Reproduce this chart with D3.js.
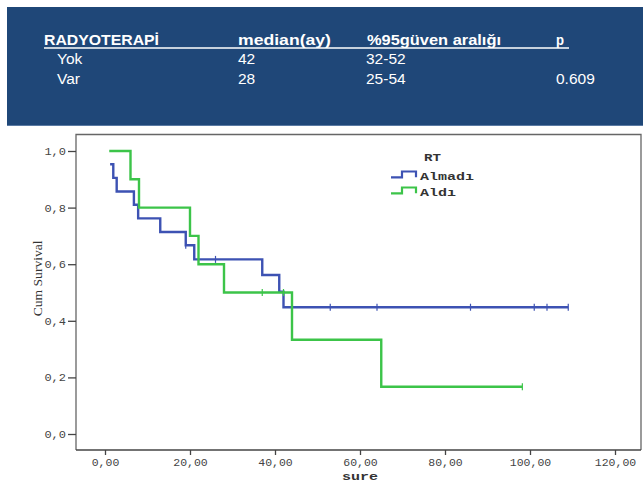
<!DOCTYPE html>
<html>
<head>
<meta charset="utf-8">
<script src="https://cdn.jsdelivr.net/npm/d3@7"></script>
<style>
  html, body { margin: 0; padding: 0; background: #fff; }
  svg { display: block; }
</style>
</head>
<body>
<svg id="chart" width="643" height="483"></svg>
<script>
// ---- Header table data ----
const tableHeaders = ["RADYOTERAPİ", "median(ay)", "%95güven aralığı", "p"];
const tableGroups = ["Yok", "Var"];
const tableMedians = ["42", "28"];
const tableCI = ["32-52", "25-54"];
const tableP = ["", "0.609"];

// ---- Kaplan-Meier data ----
const seriesNames = ["Almadı", "Aldı"];
const legendTitle = "RT";
const almadiTimes = [1.2, 1.95, 2.75, 6.8, 7.8, 13.0, 19.0, 21.0, 37.0, 41.0, 42.0];
const almadiSurv  = [0.953, 0.905, 0.857, 0.810, 0.762, 0.714, 0.667, 0.617, 0.562, 0.503, 0.448];
const almadiEnd = 109.0;
const almadiCensored = [19.0, 26.0, 53.0, 64.0, 86.0, 101.0, 104.0, 109.0];

const aldiTimes = [1.0, 6.0, 8.0, 20.0, 22.0, 28.0, 44.0, 65.0];
const aldiSurv  = [1.0, 0.9, 0.8, 0.7, 0.6, 0.5, 0.333, 0.167];
const aldiEnd = 98.2;
const aldiCensored = [37.0, 42.0, 98.2];

const xTicks = [0, 20, 40, 60, 80, 100, 120];
const yTicks = [0, 0.2, 0.4, 0.6, 0.8, 1.0];
const xLabel = "sure";
const yLabel = "Cum Survival";

const svg = d3.select("#chart");
const monoFont = "'Liberation Mono', 'DejaVu Sans Mono', monospace";
const sansFont = "'Liberation Sans', Arial, sans-serif";

// ---- Header panel ----
svg.append("rect").attr("x", 7).attr("y", 7).attr("width", 636).attr("height", 119)
  .attr("fill", "#1f4778");
svg.append("line").attr("x1", 7).attr("x2", 643).attr("y1", 125.5).attr("y2", 125.5)
  .attr("stroke", "#5a7aa3").attr("stroke-width", 1);

const colX = [44, 238, 367, 556];
const headerWidths = [115, 93, 134, 8];
const hdr = svg.append("g").attr("font-family", sansFont).attr("fill", "#fff");
tableHeaders.forEach((h, i) => {
  hdr.append("text").attr("x", colX[i]).attr("y", 45)
    .attr("font-size", 15.5).attr("font-weight", "bold")
    .attr("textLength", headerWidths[i]).attr("lengthAdjust", "spacingAndGlyphs")
    .text(h);
});
hdr.append("line").attr("x1", 44).attr("x2", 569).attr("y1", 48).attr("y2", 48)
  .attr("stroke", "#fff").attr("stroke-width", 1.6);
const rowY = [64, 84];
tableGroups.forEach((g, i) => {
  const cells = [g, tableMedians[i], tableCI[i], tableP[i]];
  const xs = [57, 238, 366, 556];
  cells.forEach((c, j) => {
    if (!c) return;
    hdr.append("text").attr("x", xs[j]).attr("y", rowY[i])
      .attr("font-size", 15.5).text(c);
  });
});

// ---- Chart ----
const frame = { left: 76, top: 134.5, right: 641, bottom: 450 };
const x = d3.scaleLinear().domain([0, 120]).range([105, 615]);
const y = d3.scaleLinear().domain([0, 1]).range([434, 151]);

// frame
svg.append("path")
  .attr("d", `M${frame.left},${frame.bottom}V${frame.top}H${frame.right}V${frame.bottom}`)
  .attr("fill", "none").attr("stroke", "#666").attr("stroke-width", 1.3);
svg.append("line").attr("x1", frame.left).attr("x2", frame.right)
  .attr("y1", frame.bottom).attr("y2", frame.bottom)
  .attr("stroke", "#444").attr("stroke-width", 1.5);

const comma = f => v => d3.format(f)(v).replace(".", ",");

// x axis
const xAxis = svg.append("g").attr("transform", `translate(0,${frame.bottom})`)
  .call(d3.axisBottom(x).tickValues(xTicks).tickFormat(comma(".2f")).tickSize(5).tickPadding(3).tickSizeOuter(0));
xAxis.select(".domain").remove();
xAxis.selectAll(".tick line").attr("stroke", "#444").attr("stroke-width", 1.3);
xAxis.selectAll(".tick text").attr("font-family", monoFont).attr("font-size", 11)
  .attr("fill", "#444")
  .attr("textLength", function() { return this.textContent.length * 6.9; })
  .attr("lengthAdjust", "spacingAndGlyphs");

// y axis
const yAxis = svg.append("g").attr("transform", `translate(${frame.left},0)`)
  .call(d3.axisLeft(y).tickValues(yTicks).tickFormat(comma(".1f")).tickSize(8).tickPadding(2).tickSizeOuter(0));
yAxis.select(".domain").remove();
yAxis.selectAll(".tick line").attr("stroke", "#444").attr("stroke-width", 1.3);
yAxis.selectAll(".tick text").attr("font-family", monoFont).attr("font-size", 11)
  .attr("fill", "#444")
  .attr("textLength", function() { return this.textContent.length * 7.2; })
  .attr("lengthAdjust", "spacingAndGlyphs");

// axis titles
svg.append("text").attr("x", x(60)).attr("y", 480).attr("text-anchor", "middle")
  .attr("font-family", monoFont).attr("font-size", 11).attr("font-weight", "bold")
  .attr("fill", "#333").attr("textLength", 36).attr("lengthAdjust", "spacingAndGlyphs")
  .text(xLabel);
svg.append("text").attr("transform", `translate(42,${y(0.55)}) rotate(-90)`)
  .attr("text-anchor", "middle")
  .attr("font-family", "'Liberation Serif', serif").attr("font-size", 12.5)
  .attr("fill", "#333").attr("textLength", 76).attr("lengthAdjust", "spacingAndGlyphs")
  .text(yLabel);

// survival curves
const colors = ["#3d52b3", "#3cc449"];
const line = d3.line().x(d => x(d[0])).y(d => y(d[1])).curve(d3.curveStepAfter);

function survAt(times, surv, t) {
  let s = surv[0];
  for (let i = 0; i < times.length; i++) if (times[i] <= t) s = surv[i];
  return s;
}

const series = [
  { times: almadiTimes, surv: almadiSurv, end: almadiEnd, cens: almadiCensored, color: colors[0] },
  { times: aldiTimes, surv: aldiSurv, end: aldiEnd, cens: aldiCensored, color: colors[1] }
];

series.forEach(s => {
  const pts = s.times.map((t, i) => [t, s.surv[i]]);
  pts.push([s.end, s.surv[s.surv.length - 1]]);
  svg.append("path").attr("d", line(pts)).attr("fill", "none")
    .attr("stroke", s.color).attr("stroke-width", 2.4);
  svg.append("g").selectAll("line").data(s.cens).join("line")
    .attr("x1", d => x(d)).attr("x2", d => x(d))
    .attr("y1", d => y(survAt(s.times, s.surv, d)) - 3.5)
    .attr("y2", d => y(survAt(s.times, s.surv, d)) + 3.5)
    .attr("stroke", s.color).attr("stroke-width", 1.2);
});

// legend
const lg = svg.append("g");
lg.append("text").attr("x", 424).attr("y", 160.5)
  .attr("font-family", monoFont).attr("font-size", 10).attr("font-weight", "bold")
  .attr("fill", "#333").attr("textLength", 17).attr("lengthAdjust", "spacingAndGlyphs")
  .text(legendTitle);
seriesNames.forEach((name, i) => {
  const low = 177.3 + i * 16, high = 171.5 + i * 16;
  lg.append("path")
    .attr("d", `M391,${low}H402V${high}H416V${low}`)
    .attr("fill", "none").attr("stroke", colors[i]).attr("stroke-width", 2.2);
  lg.append("text").attr("x", 420).attr("y", low + 3)
    .attr("font-family", monoFont).attr("font-size", 10).attr("font-weight", "bold")
    .attr("fill", "#333").attr("textLength", name.length * 9).attr("lengthAdjust", "spacingAndGlyphs")
    .text(name);
});
</script>
</body>
</html>
